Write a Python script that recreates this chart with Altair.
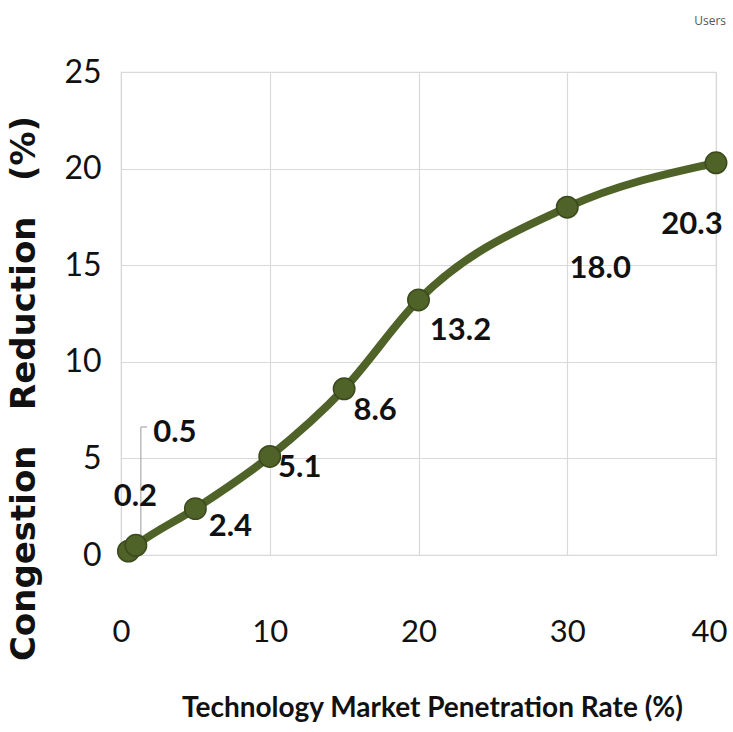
import altair as alt
import pandas as pd

# ---- data ----
penetration = [0.5, 1, 5, 10, 15, 20, 30, 40]
reduction = [0.2, 0.5, 2.4, 5.1, 8.6, 13.2, 18.0, 20.3]
labels = ["0.2", "0.5", "2.4", "5.1", "8.6", "13.2", "18.0", "20.3"]

df = pd.DataFrame({"x": penetration, "y": reduction, "label": labels,
                   "i": list(range(len(labels)))})

# label placement offsets (pixels) - styling only
label_offsets = [(7, -54), (39, -112), (35, 18), (30, 12), (31, 22),
                 (42, 31), (33, 62), (-24, 62)]

OLIVE = "#4f6228"
NARROW = "Lato"

xs = alt.Scale(domain=[0, 40], nice=False, zero=True)
ys = alt.Scale(domain=[0, 25], nice=False)

base = alt.Chart(df)

line = base.mark_line(color=OLIVE, strokeWidth=8, interpolate="monotone").encode(
    x=alt.X("x:Q", scale=xs,
            axis=alt.Axis(values=[0, 10, 20, 30, 40], title="Technology Market Penetration Rate (%)",
                          labelFont=NARROW, labelFontSize=31, labelColor="#111",
                          labelPadding=62, ticks=False, domain=False, labelFlush=False,
                          labelOffset={"condition": {"test": "datum.value == 40", "value": -7},
                                       "value": 0},
                          gridColor="#d9d9d9", gridWidth=1.2,
                          titleFont=NARROW, titleFontSize=28, titleFontWeight="bold",
                          titleColor="#111", titleX=311, titleY=153,
                          titleBaseline="middle", titleAnchor="middle")),
    y=alt.Y("y:Q", scale=ys,
            axis=alt.Axis(values=[0, 5, 10, 15, 20, 25],
                          title="Congestion\u00a0\u00a0\u00a0Reduction\u00a0\u00a0\u00a0(%)",
                          labelFont=NARROW, labelFontSize=32, labelColor="#111",
                          labelPadding=20, ticks=False, domain=False, labelFlush=False,
                          gridColor="#d9d9d9", gridWidth=1.2,
                          titleFont="DejaVu Sans", titleFontSize=34, titleFontWeight="bold",
                          titleColor="#111", titleX=-97, titleY=316, titleAngle=270,
                          titleBaseline="middle", titleAlign="center")),
)

points = base.mark_point(filled=True, shape="circle", size=460, color=OLIVE,
                         stroke="#3b4a1d", strokeWidth=1.5, opacity=1).encode(
    x=alt.X("x:Q", scale=xs), y=alt.Y("y:Q", scale=ys))

# leader line for the 0.5 label
leader = base.transform_filter(alt.datum.i == 1).mark_rule(
    color="#9a9a9a", strokeWidth=1).encode(
    x=alt.X("x:Q", scale=xs), y=alt.Y("y:Q", scale=ys),
    y2=alt.value(355), xOffset=alt.value(5))
leader_tick = base.transform_filter(alt.datum.i == 1).mark_rule(
    color="#9a9a9a", strokeWidth=1).encode(
    x=alt.X("x:Q", scale=xs), x2=alt.value(26), y=alt.value(355), xOffset=alt.value(5))

text_layers = []
for i, (dx, dy) in enumerate(label_offsets):
    text_layers.append(
        base.transform_filter(alt.datum.i == i).mark_text(
            font=NARROW, fontSize=31, fontWeight="bold", color="#111",
            dx=dx, dy=dy, align="center", baseline="middle").encode(
            x=alt.X("x:Q", scale=xs), y=alt.Y("y:Q", scale=ys), text="label:N"))

chart = alt.layer(line, leader, leader_tick, points, *text_layers).properties(
    width=595, height=483,
    autosize=alt.AutoSizeParams(type="none"),
    padding={"left": 121, "top": 72, "right": 17, "bottom": 177},
    title=alt.TitleParams("Users", anchor="end", fontSize=12, color="#555",
                          font="Open Sans", fontWeight="normal", dx=-6, offset=28),
    background="white",
).configure_view(stroke="#d9d9d9", strokeWidth=1.2)

chart.save("out.html", embed_options={"renderer": "svg", "actions": False})
